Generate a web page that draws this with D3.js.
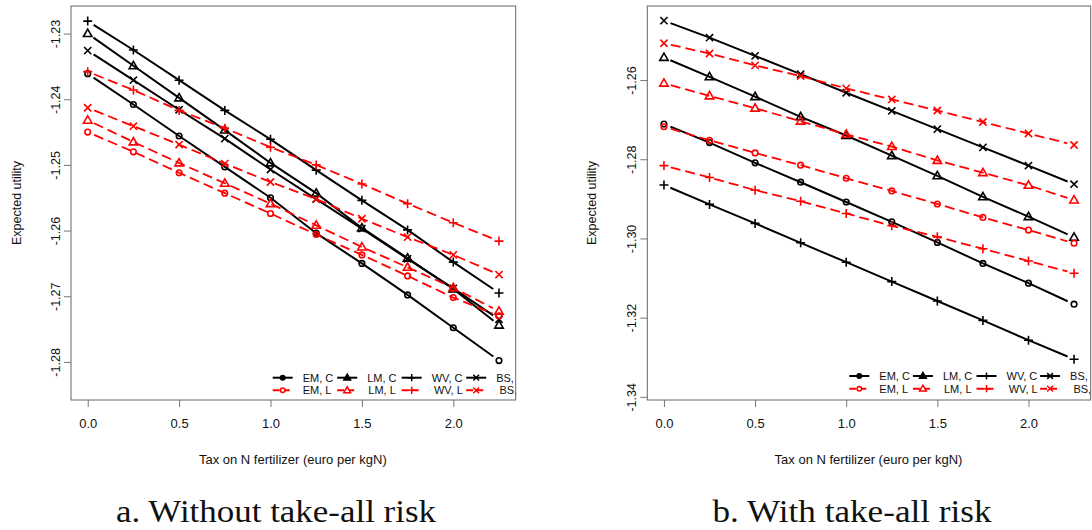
<!DOCTYPE html>
<html>
<head>
<meta charset="utf-8">
<script src="https://cdn.jsdelivr.net/npm/d3@7/dist/d3.min.js"></script>
<style>
  body { margin: 0; background: #fff; }
  text { font-family: "Liberation Sans", Arial, sans-serif; fill: #111; }
</style>
</head>
<body>
<svg id="chart" width="1092" height="530"></svg>
<script>
// tax on N fertilizer (euro per kgN)
const tax = [0, 0.25, 0.5, 0.75, 1.0, 1.25, 1.5, 1.75, 2.0, 2.25]
const xTicks = [0, 0.5, 1.0, 1.5, 2.0]
const yTicksA = [-1.28, -1.27, -1.26, -1.25, -1.24, -1.23]
const yTicksB = [-1.34, -1.32, -1.30, -1.28, -1.26]
const yDomainA = [-1.2858, -1.2258]
const yDomainB = [-1.3408, -1.2413]
const xDomain = [-0.0914, 2.3414]
const legendC = ["EM, C", "LM, C", "WV, C", "BS, C"]
const legendL = ["EM, L", "LM, L", "WV, L", "BS, L"]
const captions = ["a. Without take-all risk", "b. With take-all risk"]

// a. without take-all risk
const aEMC = [-1.2361, -1.2408, -1.2456, -1.2503, -1.2550, -1.2604, -1.2650, -1.2698, -1.2748, -1.2798]
const aLMC = [-1.2300, -1.2349, -1.2398, -1.2447, -1.2497, -1.2543, -1.2596, -1.2642, -1.2689, -1.2744]
const aWVC = [-1.2281, -1.2325, -1.2371, -1.2417, -1.2461, -1.2508, -1.2554, -1.2599, -1.2648, -1.2695]
const aBSC = [-1.2326, -1.2371, -1.2416, -1.2460, -1.2507, -1.2552, -1.2597, -1.2643, -1.2688, -1.2735]
const aEML = [-1.2450, -1.2480, -1.2512, -1.2543, -1.2574, -1.2606, -1.2637, -1.2669, -1.2702, -1.2730]
const aLML = [-1.2432, -1.2465, -1.2497, -1.2528, -1.2559, -1.2592, -1.2625, -1.2656, -1.2687, -1.2723]
const aWVL = [-1.2358, -1.2386, -1.2417, -1.2444, -1.2473, -1.2500, -1.2529, -1.2559, -1.2588, -1.2616]
const aBSL = [-1.2413, -1.2441, -1.2469, -1.2498, -1.2526, -1.2552, -1.2582, -1.2610, -1.2637, -1.2667]

// b. with take-all risk
const bEMC = [-1.2711, -1.2758, -1.2809, -1.2858, -1.2908, -1.2958, -1.3010, -1.3063, -1.3113, -1.3166]
const bLMC = [-1.2543, -1.2592, -1.2642, -1.2693, -1.2740, -1.2791, -1.2842, -1.2895, -1.2945, -1.2997]
const bWVC = [-1.2865, -1.2914, -1.2962, -1.3011, -1.3060, -1.3109, -1.3158, -1.3207, -1.3257, -1.3305]
const bBSC = [-1.2450, -1.2493, -1.2539, -1.2585, -1.2632, -1.2678, -1.2724, -1.2770, -1.2816, -1.2863]
const bEML = [-1.2718, -1.2752, -1.2784, -1.2815, -1.2848, -1.2880, -1.2913, -1.2947, -1.2979, -1.3012]
const bLML = [-1.2608, -1.2640, -1.2671, -1.2704, -1.2737, -1.2768, -1.2803, -1.2834, -1.2866, -1.2903]
const bWVL = [-1.2816, -1.2846, -1.2878, -1.2906, -1.2937, -1.2968, -1.2996, -1.3026, -1.3057, -1.3088]
const bBSL = [-1.2507, -1.2533, -1.2563, -1.2590, -1.2621, -1.2649, -1.2677, -1.2706, -1.2735, -1.2764]

const shapes = ["circle", "triangle", "plus", "cross"]

const svg = d3.select('#chart')

// marker paths (R pch 1,2,3,4)
const markerPath = (shape, k) => {
    if (shape == "triangle") {
        const s = 8.5 * k, h = s * 0.866
        return `M0,${-h * 0.6}L${s / 2},${h * 0.4}L${-s / 2},${h * 0.4}Z`
    }
    if (shape == "plus") {
        const r = 4.5 * k
        return `M${-r},0H${r}M0,${-r}V${r}`
    }
    if (shape == "cross") {
        const r = 3.6 * k
        return `M${-r},${-r}L${r},${r}M${-r},${r}L${r},${-r}`
    }
    const r = 2.8 * k
    return `M${r},0A${r},${r} 0 1,1 ${-r},0A${r},${r} 0 1,1 ${r},0Z`
}

const drawPanel = (box, yDomain, yTicks, series, labelX, titleX, legendX, caption, capX, capW) => {
    const x = d3.scaleLinear().domain(xDomain).range([box.left, box.right])
    const y = d3.scaleLinear().domain(yDomain).range([box.bottom, box.top])
    const g = svg.append('g')

    // x axis
    const xa = g.append('g')
        .attr('transform', `translate(0,${box.bottom})`)
        .call(d3.axisBottom(x).tickValues(xTicks).tickSize(7).tickPadding(12).tickFormat(d => d.toFixed(1)))
    xa.select('.domain').remove()
    xa.selectAll('line').attr('stroke', '#777')
    xa.selectAll('text').attr('font-size', 13).attr('fill', '#111')

    // y axis, labels rotated like R's default las=0
    const ya = g.append('g')
        .attr('transform', `translate(${box.left},0)`)
        .call(d3.axisLeft(y).tickValues(yTicks).tickSize(7).tickFormat(d => d.toFixed(2)))
    ya.select('.domain').remove()
    ya.selectAll('line').attr('stroke', '#777')
    ya.selectAll('text')
        .attr('font-size', 12.5)
        .attr('fill', '#111')
        .attr('x', null).attr('dy', null).attr('y', 0)
        .attr('text-anchor', 'middle')
        .attr('transform', `translate(${labelX - box.left},0) rotate(-90)`)

    g.append('rect')
        .attr('x', box.left).attr('y', box.top)
        .attr('width', box.right - box.left).attr('height', box.bottom - box.top)
        .attr('fill', 'none').attr('stroke', '#666').attr('stroke-width', 1)

    g.append('text')
        .attr('x', (box.left + box.right) / 2 - 0.5).attr('y', 464)
        .attr('text-anchor', 'middle').attr('font-size', 13)
        .text('Tax on N fertilizer (euro per kgN)')
    g.append('text')
        .attr('transform', `translate(${titleX},${(box.top + box.bottom) / 2}) rotate(-90)`)
        .attr('text-anchor', 'middle').attr('font-size', 12.5)
        .text('Expected utility')

    // lines: trimmed at first and last point, like R type="b"
    const gap = 7
    series.forEach(s => {
        const pts = tax.map((t, i) => [x(t), y(s.values[i])])
        const trim = (a, b) => {
            const dx = b[0] - a[0], dy = b[1] - a[1], len = Math.hypot(dx, dy)
            return [a[0] + dx / len * gap, a[1] + dy / len * gap]
        }
        const linePts = pts.slice()
        linePts[0] = trim(pts[0], pts[1])
        linePts[pts.length - 1] = trim(pts[pts.length - 1], pts[pts.length - 2])
        g.append('path')
            .attr('d', d3.line()(linePts))
            .attr('fill', 'none')
            .attr('stroke', s.color)
            .attr('stroke-width', s.dash ? 1.8 : 2)
            .attr('stroke-dasharray', s.dash ? '10,5' : null)
        g.selectAll(null)
            .data(pts)
            .enter()
            .append('path')
            .attr('transform', d => `translate(${d[0]},${d[1]})`)
            .attr('d', markerPath(s.shape, 1))
            .attr('fill', 'none')
            .attr('stroke', s.color)
            .attr('stroke-width', 1.6)
    })

    // legend, clipped by the plot box
    const clipId = 'clip' + Math.round(box.left)
    svg.append('clipPath').attr('id', clipId)
        .append('rect')
        .attr('x', box.left).attr('y', box.top)
        .attr('width', box.right - box.left).attr('height', box.bottom - box.top)
    const lg = g.append('g').attr('clip-path', `url(#${clipId})`)
    const rows = [legendC, legendL]
    rows.forEach((labels, r) => {
        const ly = legendX.rowY[r]
        labels.forEach((lab, c) => {
            const lx = legendX.start + c * legendX.step
            const color = r == 0 ? 'black' : 'red'
            lg.append('line')
                .attr('x1', lx).attr('x2', lx + 20)
                .attr('y1', ly).attr('y2', ly)
                .attr('stroke', color).attr('stroke-width', 2)
                .attr('stroke-dasharray', r == 1 ? '7,3' : null)
            lg.append('path')
                .attr('transform', `translate(${lx + 10},${ly})`)
                .attr('d', markerPath(shapes[c], 0.8))
                .attr('fill', r == 0 ? 'black' : 'white')
                .attr('stroke', color).attr('stroke-width', 1.5)
            lg.append('text')
                .attr('x', lx + 30 + r * c * 1.1).attr('y', ly + 4)
                .attr('font-size', 11)
                .text(lab)
        })
    })

    svg.append('text')
        .attr('x', capX).attr('y', 522)
        .attr('text-anchor', 'middle')
        .style('font-family', '"Liberation Serif", "Times New Roman", serif')
        .attr('font-size', 32)
        .attr('textLength', capW)
        .attr('lengthAdjust', 'spacingAndGlyphs')
        .text(caption)
}

const seriesOf = (emc, lmc, wvc, bsc, eml, lml, wvl, bsl) => [
    { values: emc, color: 'black', dash: false, shape: 'circle' },
    { values: lmc, color: 'black', dash: false, shape: 'triangle' },
    { values: wvc, color: 'black', dash: false, shape: 'plus' },
    { values: bsc, color: 'black', dash: false, shape: 'cross' },
    { values: eml, color: 'red', dash: true, shape: 'circle' },
    { values: lml, color: 'red', dash: true, shape: 'triangle' },
    { values: wvl, color: 'red', dash: true, shape: 'plus' },
    { values: bsl, color: 'red', dash: true, shape: 'cross' },
]

drawPanel({ left: 71, right: 515.7, top: 6, bottom: 400 }, yDomainA, yTicksA,
    seriesOf(aEMC, aLMC, aWVC, aBSC, aEML, aLML, aWVL, aBSL),
    60, 21, { start: 272.7, step: 64.5, rowY: [377.7, 390.3] }, captions[0], 276, 320)

drawPanel({ left: 647.3, right: 1090.7, top: 6, bottom: 400 }, yDomainB, yTicksB,
    seriesOf(bEMC, bLMC, bWVC, bBSC, bEML, bLML, bWVL, bBSL),
    636, 596, { start: 849.3, step: 63.6, rowY: [376, 388.7] }, captions[1], 852, 279)
</script>
</body>
</html>
